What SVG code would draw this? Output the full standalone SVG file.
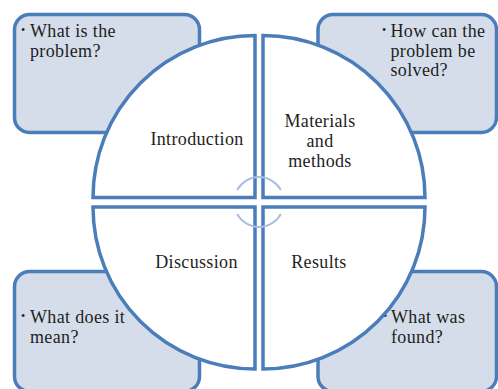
<svg xmlns="http://www.w3.org/2000/svg" width="498" height="389" viewBox="0 0 498 389">
  <style>
    .box { fill: #D5DDEA; stroke: #4A7DBA; stroke-width: 3.5; }
    .quad { fill: #FFFFFF; stroke: #4A7DBA; stroke-width: 3.5; stroke-linejoin: miter; }
    .arc { fill: none; stroke: #A9BFE0; stroke-width: 2; }
    text { font-family: "Liberation Serif", "Times New Roman", serif; font-size: 18px; fill: #1E1E1E; letter-spacing: 0.35px; }
    .mid { text-anchor: middle; }
    .bullet { font-size: 12px; letter-spacing: 0; }
  </style>

  <!-- question boxes behind the circle -->
  <g id="box-problem">
    <rect class="box" x="14.5" y="14.5" width="185" height="118" rx="15"/>
    <text class="bullet" x="21" y="34">•</text>
    <text x="30" y="37">What is the</text>
    <text x="30" y="56.5">problem?</text>
  </g>
  <g id="box-solved">
    <rect class="box" x="318" y="14.5" width="178.5" height="118" rx="15"/>
    <text class="bullet" x="382" y="34">•</text>
    <text x="390.5" y="37">How can the</text>
    <text x="390.5" y="56.5">problem be</text>
    <text x="390.5" y="76">solved?</text>
  </g>
  <g id="box-meaning">
    <rect class="box" x="14.5" y="271.5" width="185" height="120" rx="15"/>
    <text class="bullet" x="21" y="320">•</text>
    <text x="30" y="323.3">What does it</text>
    <text x="30" y="342.7">mean?</text>
  </g>
  <g id="box-found">
    <rect class="box" x="318" y="271.5" width="178.5" height="120" rx="15"/>
    <text class="bullet" x="383" y="320">•</text>
    <text x="391" y="323.3">What was</text>
    <text x="391" y="342.7">found?</text>
  </g>

  <!-- four quadrants of the circle -->
  <g id="introduction">
    <path class="quad" d="M255,197.5 L93,197.5 A162,162 0 0 1 255,35.5 Z"/>
    <text class="mid" x="197" y="145">Introduction</text>
  </g>
  <g id="materials-and-methods">
    <path class="quad" d="M263,197.5 L263,35.5 A162,162 0 0 1 425,197.5 Z"/>
    <text class="mid" x="320" y="126.5">Materials</text>
    <text class="mid" x="320" y="146.5">and</text>
    <text class="mid" x="320" y="166.5">methods</text>
  </g>
  <g id="results">
    <path class="quad" d="M263,207 L425,207 A162,162 0 0 1 263,369 Z"/>
    <text class="mid" x="319" y="268.3">Results</text>
  </g>
  <g id="discussion">
    <path class="quad" d="M255,207 L255,369 A162,162 0 0 1 93,207 Z"/>
    <text class="mid" x="196.5" y="268.3">Discussion</text>
  </g>

  <!-- cycle arcs at the centre -->
  <g id="connectors">
    <path class="arc" d="M237.1,190 A25,25 0 0 1 280.9,190"/>
    <path class="arc" d="M237.1,214 A25,25 0 0 0 280.9,214"/>
  </g>
</svg>
